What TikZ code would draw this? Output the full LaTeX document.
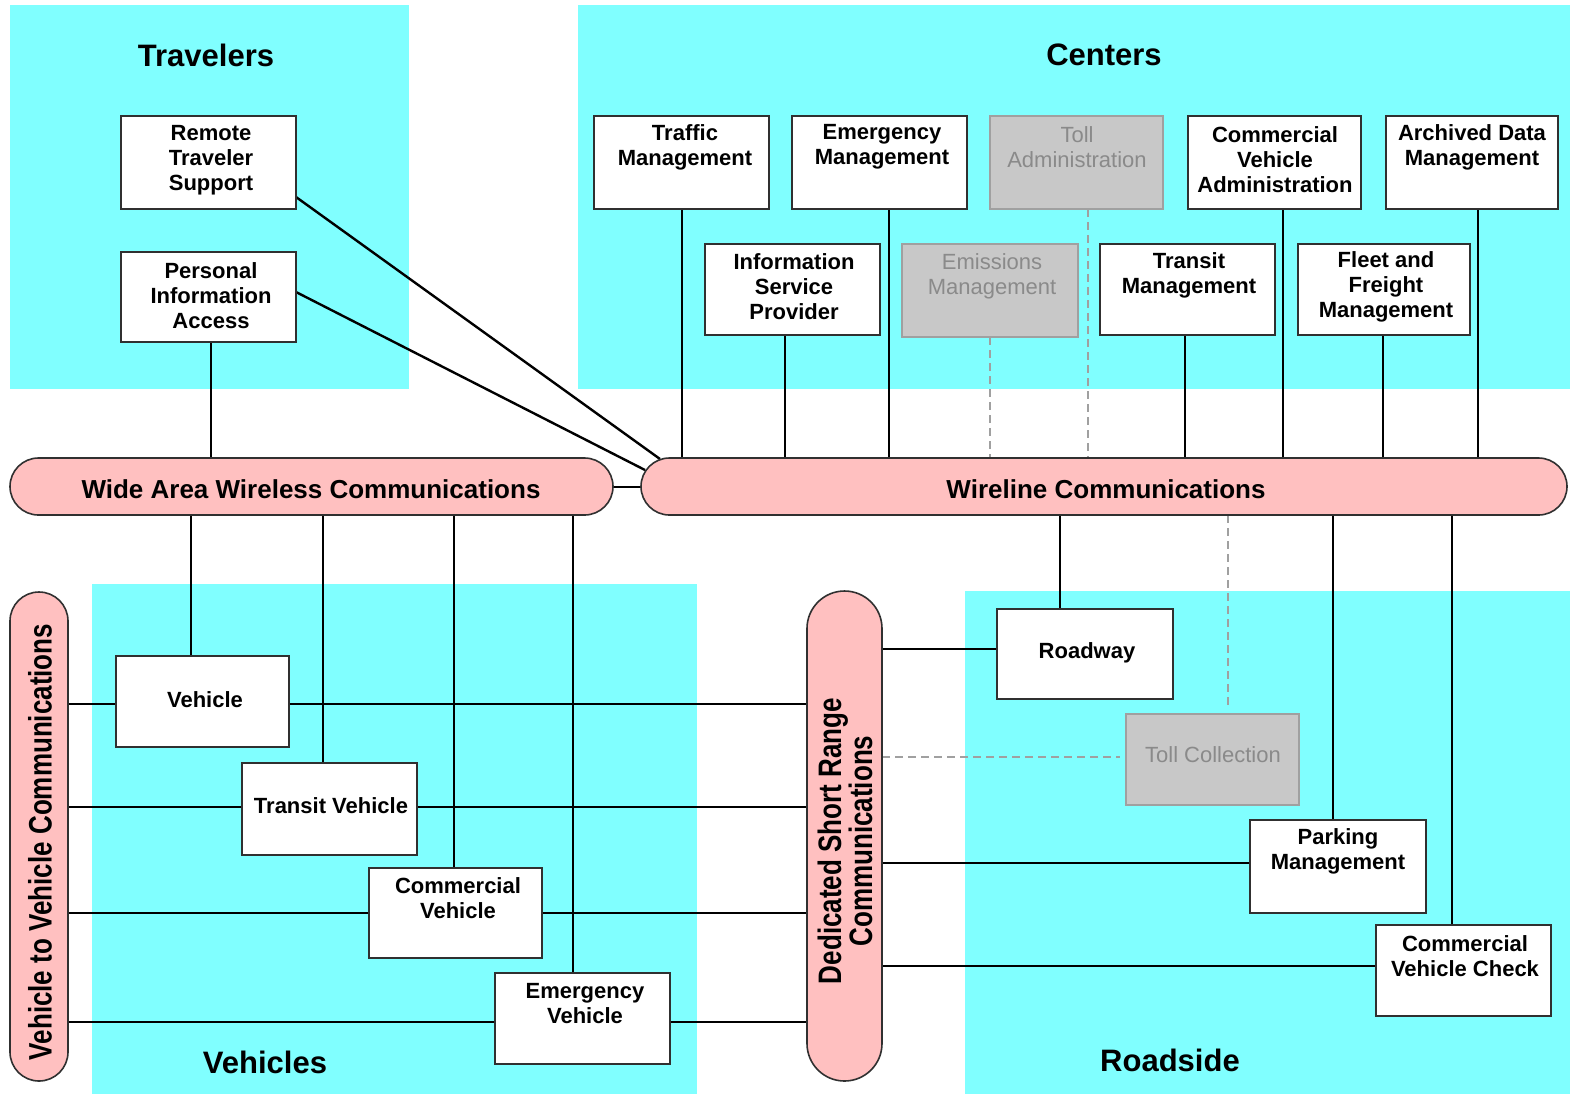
\documentclass[tikz,border=0pt]{standalone}
\usepackage{fontspec}
\usepackage{graphicx}
\setmainfont{Liberation Sans}
\definecolor{cyanbg}{HTML}{80FFFF}
\definecolor{pinkbg}{HTML}{FFC0C0}
\definecolor{greyfill}{HTML}{C8C8C8}
\definecolor{greytext}{HTML}{8A8A8A}
\definecolor{greyline}{HTML}{A0A0A0}
\definecolor{edge}{HTML}{303030}
\pgfdeclarelayer{bg}
\pgfdeclarelayer{lines}
\pgfsetlayers{bg,lines,main}

% a box given by its corners (in px units): name, x1, y1, x2, y2
\newcommand\mkbox[6][unitbox]{%
  \node[#1, minimum width={(#5-#3)*0.5pt}, minimum height={(#6-#4)*0.5pt}]
    (#2) at ({(#3+#5)/2},{(#4+#6)/2}) {};}
% vertical link at a given x between two anchors
\newcommand\vlink[4][link]{\path (#4,0) coordinate (lx); \draw[#1] (#2 -| lx) -- (#3 -| lx);}
% horizontal link at a given y between two anchors
\newcommand\hlink[4][link]{\path (0,#4) coordinate (ly); \draw[#1] (#2 |- ly) -- (#3 |- ly);}

\begin{document}
\begin{tikzpicture}[x=0.5pt,y=-0.5pt,
  unitbox/.style={draw=edge, fill=white, line width=0.7pt, inner sep=0pt, outer sep=0pt},
  greybox/.style={draw=greyline, fill=greyfill, line width=0.7pt, inner sep=0pt, outer sep=0pt},
  pill/.style={draw=edge, fill=pinkbg, line width=0.8pt, inner sep=0pt, outer sep=0pt},
  utext/.style={align=center, inner sep=0pt, font=\bfseries\fontsize{11}{12.5}\selectfont},
  gtext/.style={align=center, inner sep=0pt, text=greytext, font=\fontsize{11}{12.5}\selectfont},
  ptext/.style={align=center, inner sep=0pt, font=\bfseries\fontsize{13}{15.5}\selectfont},
  title/.style={inner sep=0pt, font=\bfseries\fontsize{15.5}{18}\selectfont},
  link/.style={line width=1.2pt, black},
  dlink/.style={line width=0.6pt, greyline, dash pattern=on 4pt off 2.5pt}]
\useasboundingbox (0,0) rectangle (1570,1094);

% group panels
\begin{pgfonlayer}{bg}
  \fill[white] (0,0) rectangle (1570,1094);
  \fill[cyanbg] (10,5) rectangle (409,389);
  \fill[cyanbg] (578,5) rectangle (1570,389);
  \fill[cyanbg] (92,584) rectangle (697,1094);
  \fill[cyanbg] (965,591) rectangle (1570,1094);
\end{pgfonlayer}

\node[title] (t-trav) at (206,55) {Travelers};
\node[title] (t-cent) at (1104,55) {Centers};
\node[title] (t-veh) at (265,1062) {Vehicles};
\node[title] (t-road) at (1170,1060) {Roadside};

% communication buses
\mkbox[pill, rounded corners=14.25pt]{waw}{10}{458}{613}{515}
\mkbox[pill, rounded corners=14.25pt]{wl}{641}{458}{1567}{515}
\mkbox[pill, rounded corners=14.5pt]{v2v}{10}{592}{68}{1081}
\mkbox[pill, rounded corners=18.75pt]{dsrc}{807}{591}{882}{1081}

\node[ptext] (waw-t) at (311,489) {Wide Area Wireless Communications};
\node[ptext] (wl-t) at (1106,489) {Wireline Communications};
\node[ptext, rotate=90] (v2v-t) at (40,842) {\scalebox{1}[1.25]{Vehicle to Vehicle Communications}};
\node[ptext, rotate=90] (dsrc-t) at (845,841) {\scalebox{1}[1.25]{Dedicated Short Range}\\\scalebox{1}[1.25]{Communications}};

% travelers
\mkbox{rts}{121}{116}{296}{209}
\mkbox{pia}{121}{252}{296}{342}
% centers
\mkbox{tm}{594}{116}{769}{209}
\mkbox{em}{792}{116}{967}{209}
\mkbox[greybox]{ta}{990}{116}{1163}{209}
\mkbox{cva}{1188}{116}{1361}{209}
\mkbox{adm}{1386}{116}{1558}{209}
\mkbox{isp}{705}{244}{880}{335}
\mkbox[greybox]{emi}{902}{244}{1078}{337}
\mkbox{trm}{1100}{244}{1275}{335}
\mkbox{ffm}{1298}{244}{1470}{335}
% vehicles
\mkbox{veh}{116}{656}{289}{747}
\mkbox{tv}{242}{763}{417}{855}
\mkbox{cv}{369}{868}{542}{958}
\mkbox{ev}{495}{973}{670}{1064}
% roadside
\mkbox{rw}{997}{609}{1173}{699}
\mkbox[greybox]{tc}{1126}{714}{1299}{805}
\mkbox{pm}{1250}{820}{1426}{913}
\mkbox{cvc}{1376}{925}{1551}{1016}

\node[utext] (rts-t) at (211,160) {Remote\\Traveler\\Support};
\node[utext] (pia-t) at (211,296) {Personal\\Information\\Access};
\node[utext] (tm-t) at (685,147) {Traffic\\Management};
\node[utext] (em-t) at (882,147) {Emergency\\Management};
\node[gtext] (ta-t) at (1077,147) {Toll\\Administration};
\node[utext] (cva-t) at (1275,160) {Commercial\\Vehicle\\Administration};
\node[utext] (adm-t) at (1472,147) {Archived Data\\Management};
\node[utext] (isp-t) at (794,287) {Information\\Service\\Provider};
\node[gtext] (emi-t) at (992,276) {Emissions\\Management};
\node[utext] (trm-t) at (1189,275) {Transit\\Management};
\node[utext] (ffm-t) at (1386,287) {Fleet and\\Freight\\Management};
\node[utext] (veh-t) at (205,700) {Vehicle};
\node[utext] (tv-t) at (331,806) {Transit Vehicle};
\node[utext] (cv-t) at (458,898) {Commercial\\Vehicle};
\node[utext] (ev-t) at (585,1004) {Emergency\\Vehicle};
\node[utext] (rw-t) at (1087,653) {Roadway};
\node[gtext] (tc-t) at (1213,755) {Toll Collection};
\node[utext] (pm-t) at (1338,851) {Parking\\Management};
\node[utext] (cvc-t) at (1465,956) {Commercial\\Vehicle Check};

% connectors
\begin{pgfonlayer}{lines}
  \vlink{pia.south}{waw.north}{211}
  \path (0,197) coordinate (yA) (660,459) coordinate (wlA)
        (0,292) coordinate (yB) (645,470) coordinate (wlB);
  \draw[link] (rts.east |- yA) -- (wlA);
  \draw[link] (pia.east |- yB) -- (wlB);
  \hlink{waw.east}{wl.west}{487}

  \vlink{tm.south}{wl.north}{682}
  \vlink{isp.south}{wl.north}{785}
  \vlink{em.south}{wl.north}{889}
  \vlink[dlink]{emi.south}{wl.north}{990}
  \vlink[dlink]{ta.south}{wl.north}{1088}
  \vlink{trm.south}{wl.north}{1185}
  \vlink{cva.south}{wl.north}{1283}
  \vlink{ffm.south}{wl.north}{1383}
  \vlink{adm.south}{wl.north}{1478}

  \vlink{waw.south}{veh.north}{191}
  \vlink{waw.south}{tv.north}{323}
  \vlink{waw.south}{cv.north}{454}
  \vlink{waw.south}{ev.north}{573}

  \vlink{wl.south}{rw.north}{1060}
  \vlink[dlink, shorten >=4.5pt]{wl.south}{tc.north}{1228}
  \vlink{wl.south}{pm.north}{1333}
  \vlink{wl.south}{cvc.north}{1452}

  \hlink{v2v.east}{dsrc.west}{704}
  \hlink{v2v.east}{dsrc.west}{807}
  \hlink{v2v.east}{dsrc.west}{913}
  \hlink{v2v.east}{dsrc.west}{1022}

  \hlink{dsrc.east}{rw.west}{649}
  \hlink[dlink, shorten >=3pt]{dsrc.east}{tc.west}{757}
  \hlink{dsrc.east}{pm.west}{863}
  \hlink{dsrc.east}{cvc.west}{966}
\end{pgfonlayer}
\end{tikzpicture}
\end{document}
